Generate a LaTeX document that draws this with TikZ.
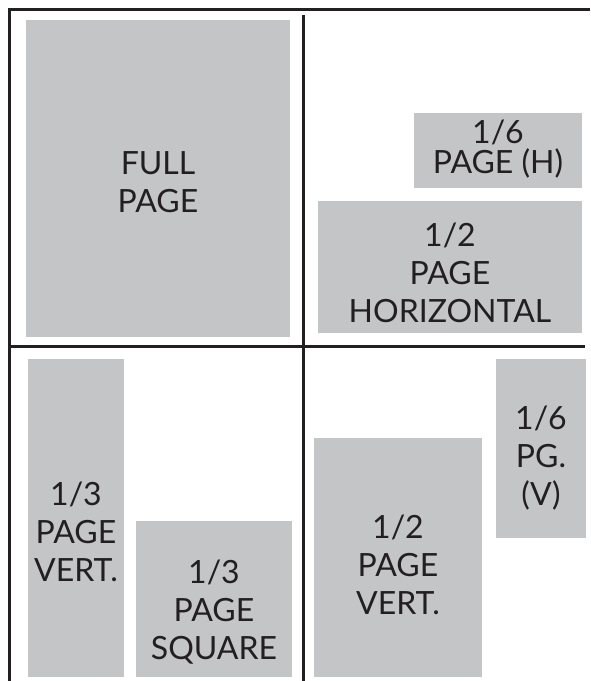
\documentclass[tikz,border=0pt]{standalone}
\usepackage{fontspec}
\setmainfont{Lato}
\usetikzlibrary{fit}
\definecolor{panegray}{RGB}{196,197,199}
\definecolor{inkline}{RGB}{35,31,32}
\definecolor{inktext}{RGB}{35,31,32}
\newcommand\mytightfont{\fontsize{32}{30.5}\selectfont\lineskiplimit=-30pt\relax}
\tikzset{
  pane/.style={fill=panegray, draw=none, inner sep=0pt, rectangle},
  lbl/.style={anchor=north, inner sep=0pt, align=center, text=inktext,
    font=\fontsize{32}{38}\selectfont},
  tightlbl/.style={lbl, font=\mytightfont},
  rule/.style={draw=inkline, line width=2.7pt}
}
\begin{document}
\begin{tikzpicture}[x=1pt,y=-1pt]
\useasboundingbox (0,0) rectangle (590,681);
% frame and dividers
\coordinate (tr) at (590,9.5);
\coordinate (tl) at (9.5,9.5);
\coordinate (bl) at (9.5,681);
\coordinate (vt) at (303.3,15);
\coordinate (vb) at (303.3,681);
\coordinate (hl) at (9.5,346.5);
\coordinate (hr) at (585,346.5);
\draw[rule, line join=miter] (tr) -- (tl) -- (bl);
\draw[rule] (vt) -- (vb);
\draw[rule] (hl) -- (hr);
% panes
\node[pane, fit={(26,20) (290,337)}] (full) {};
\node[pane, fit={(414,113) (582,188)}] (sixh) {};
\node[pane, fit={(318,201) (582,333)}] (halfh) {};
\node[pane, fit={(28,359) (124,677)}] (thirdv) {};
\node[pane, fit={(136,521) (292,677)}] (thirdsq) {};
\node[pane, fit={(314,438) (482,677)}] (halfv) {};
\node[pane, fit={(496,359) (586,538)}] (sixv) {};
% labels
\node[lbl] (fullT) at (158,151.7) {FULL\\PAGE};
\node[tightlbl] (sixhT) at (498,119.5) {1/6\\PAGE (H)};
\node[lbl] (halfhT) at (450,222.7) {1/2\\PAGE\\HORIZONTAL};
\node[lbl] (thirdvT) at (76,481.7) {1/3\\PAGE\\VERT.};
\node[lbl] (thirdsqT) at (214,560) {1/3\\PAGE\\SQUARE};
\node[lbl] (halfvT) at (398,515) {1/2\\PAGE\\VERT.};
\node[lbl] (sixvT) at (541,406) {1/6\\PG.\\(V)};
\end{tikzpicture}
\end{document}
